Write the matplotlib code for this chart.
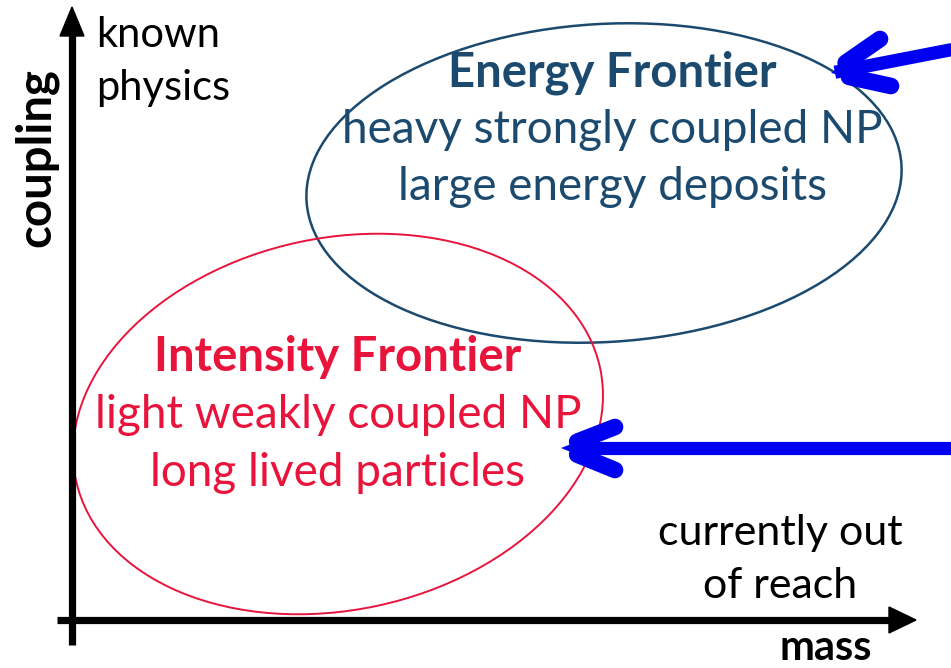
import matplotlib
matplotlib.use("Agg")
import matplotlib.pyplot as plt
from matplotlib.patches import Ellipse, Polygon

W, H = 951, 668
FONT = "Lato"

# colours
ENERGY_C = "#1b4a6e"
INTENSITY_C = "#e8143c"
ARROW_C = "#0000f0"

# text blocks
energy_lines = ["Energy Frontier", "heavy strongly coupled NP", "large energy deposits"]
intensity_lines = ["Intensity Frontier", "light weakly coupled NP", "long lived particles"]
known_lines = ["known", "physics"]
reach_lines = ["currently out", "of reach"]
x_label = "mass"
y_label = "coupling"

fig = plt.figure(figsize=(W / 100, H / 100), dpi=100)
ax = fig.add_axes([0, 0, 1, 1])
ax.set_xlim(0, W)
ax.set_ylim(H, 0)
ax.axis("off")

# axes arrows
ax.plot([72, 72], [645, 30], color="black", lw=5.2, solid_capstyle="butt")
ax.add_patch(Polygon([(72, 7), (60, 36), (84, 36)], closed=True, color="black"))
ax.plot([57, 893], [620, 620], color="black", lw=5.2, solid_capstyle="butt")
ax.add_patch(Polygon([(916, 620), (889, 607), (889, 633)], closed=True, color="black"))

# ellipses
ax.add_patch(Ellipse((604, 183), 596, 318, angle=-3.5, fill=False,
                     ec=ENERGY_C, lw=1.8))
ax.add_patch(Ellipse((338, 424), 536, 372, angle=-12, fill=False,
                     ec=INTENSITY_C, lw=1.4))

# labels inside ellipses
for i, s in enumerate(energy_lines):
    ax.text(612, 73 + i * 57, s, color=ENERGY_C, fontsize=34 if i == 0 else 33,
            family=FONT, fontweight="bold" if i == 0 else "normal",
            ha="center", va="center")
for i, s in enumerate(intensity_lines):
    ax.text(338, 357 + i * 58, s, color=INTENSITY_C, fontsize=34 if i == 0 else 33,
            family=FONT, fontweight="bold" if i == 0 else "normal",
            ha="center", va="center")

# side notes
for i, s in enumerate(known_lines):
    ax.text(96, 35 + i * 53, s, color="black", fontsize=30, family=FONT,
            ha="left", va="center")
for i, s in enumerate(reach_lines):
    ax.text(780, 533 + i * 53, s, color="black", fontsize=31, family=FONT,
            ha="center", va="center")
ax.text(826, 648, x_label, color="black", fontsize=30, family=FONT,
        fontweight="bold", ha="center", va="center")
ax.text(36, 158, y_label, color="black", fontsize=34, family=FONT,
        fontweight="bold", ha="center", va="center", rotation=90)


def chevron_arrow(tail, tip, arm1, arm2):
    # shaft
    ax.plot([tail[0], tip[0] + 0.03 * (tail[0] - tip[0])],
            [tail[1], tip[1] + 0.03 * (tail[1] - tip[1])],
            color=ARROW_C, lw=9.5, solid_capstyle="butt")
    # arms with rounded ends
    for arm in (arm1, arm2):
        inner = (tip[0] + 0.3 * (arm[0] - tip[0]), tip[1] + 0.3 * (arm[1] - tip[1]))
        ax.plot([inner[0], arm[0]], [inner[1], arm[1]], color=ARROW_C, lw=12,
                solid_capstyle="round")
    # filled sharp tip
    p1 = (tip[0] + 0.6 * (arm1[0] - tip[0]), tip[1] + 0.6 * (arm1[1] - tip[1]))
    p2 = (tip[0] + 0.6 * (arm2[0] - tip[0]), tip[1] + 0.6 * (arm2[1] - tip[1]))
    ax.add_patch(Polygon([tip, p1, p2], closed=True, color=ARROW_C, lw=0))


chevron_arrow((960, 48), (831, 73), (880, 39), (891, 86))
chevron_arrow((960, 448), (561, 448), (615, 427), (615, 470))

fig.savefig("out.png", dpi=100, facecolor="white")
